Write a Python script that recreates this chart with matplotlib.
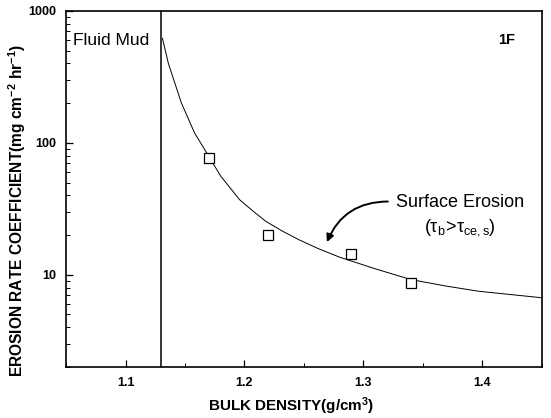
import matplotlib
matplotlib.use("Agg")
import matplotlib.pyplot as plt
from matplotlib.ticker import MultipleLocator, LogLocator, NullFormatter, FixedLocator, FixedFormatter

plt.rcParams['font.family'] = ['Liberation Sans', 'DejaVu Sans']
plt.rcParams['mathtext.fontset'] = 'custom'
plt.rcParams['mathtext.rm'] = 'Liberation Sans'
plt.rcParams['mathtext.it'] = 'Liberation Sans'
plt.rcParams['mathtext.bf'] = 'Liberation Sans:bold'

# measured data (open squares)
density = [1.17, 1.22, 1.29, 1.34]
erosion_coef = [77, 20, 14.4, 8.6]

# fitted curve
curve_density = [1.131, 1.136, 1.147, 1.158, 1.17, 1.18, 1.188, 1.196, 1.207,
                 1.218, 1.232, 1.246, 1.262, 1.28, 1.31, 1.34, 1.37, 1.397, 1.45]
curve_coef = [620, 400, 200, 119, 79, 56, 45.5, 37, 30.5, 25.4, 21.4, 18.4,
              15.8, 13.6, 11.1, 9.2, 8.2, 7.5, 6.7]

fluid_mud_limit = 1.13

y_ticks = [10, 100, 1000]
y_tick_labels = ['10', '100', '1000']
x_ticks = [1.1, 1.2, 1.3, 1.4]

fig = plt.figure(figsize=(5.51, 4.18), dpi=100)
ax = fig.add_axes([0.12, 0.122, 0.863, 0.852])

ax.plot(curve_density, curve_coef, color='black', linewidth=0.7)
ax.plot(density, erosion_coef, linestyle='none', marker='s', markersize=6.5,
        markerfacecolor='white', markeredgecolor='black', markeredgewidth=0.9)
ax.axvline(fluid_mud_limit, color='black', linewidth=1.1)

ax.set_yscale('log')
ax.set_xlim(1.05, 1.45)
ax.set_ylim(2, 1000)

ax.yaxis.set_major_locator(FixedLocator(y_ticks))
ax.yaxis.set_major_formatter(FixedFormatter(y_tick_labels))
ax.yaxis.set_minor_locator(LogLocator(base=10, subs=range(2, 10)))
ax.yaxis.set_minor_formatter(NullFormatter())
ax.xaxis.set_major_locator(FixedLocator(x_ticks))
ax.xaxis.set_minor_locator(MultipleLocator(0.05))

ax.tick_params(which='major', direction='in', length=5, width=0.9,
               labelsize=9, pad=7)
ax.tick_params(which='minor', direction='in', length=3, width=0.7)
for lab in ax.get_xticklabels() + ax.get_yticklabels():
    lab.set_fontweight('bold')
for s in ax.spines.values():
    s.set_linewidth(1.2)

ax.set_xlabel(r'BULK DENSITY(g/cm$^{\mathbf{3}}$)', fontsize=11, fontweight='bold')
ax.set_ylabel(r'EROSION RATE COEFFICIENT(mg cm$^{\mathbf{-2}}$ hr$^{\mathbf{-1}}$)',
              fontsize=11.2, fontweight='bold')
ax.xaxis.set_label_coords(0.473, -0.08)
ax.yaxis.set_label_coords(-0.08, 0.438)

ax.text(1.056, 600, 'Fluid Mud', fontsize=12.5, va='center', ha='left')
ax.text(1.428, 600, '1F', fontsize=10.5, fontweight='bold', va='center', ha='right')
ax.text(1.381, 35, 'Surface Erosion', fontsize=13, va='center', ha='center')
ax.text(1.381, 22.7, r'$(\tau_{\mathrm{b}}\!>\!\tau_{\mathrm{ce,s}})$', fontsize=13,
        va='center', ha='center')

ax.annotate('', xy=(1.2685, 16.9), xytext=(1.323, 35.9),
            arrowprops=dict(arrowstyle='-|>', color='black', lw=1.4,
                            connectionstyle='arc3,rad=0.35',
                            mutation_scale=11))

fig.savefig('out.png', dpi=100)
